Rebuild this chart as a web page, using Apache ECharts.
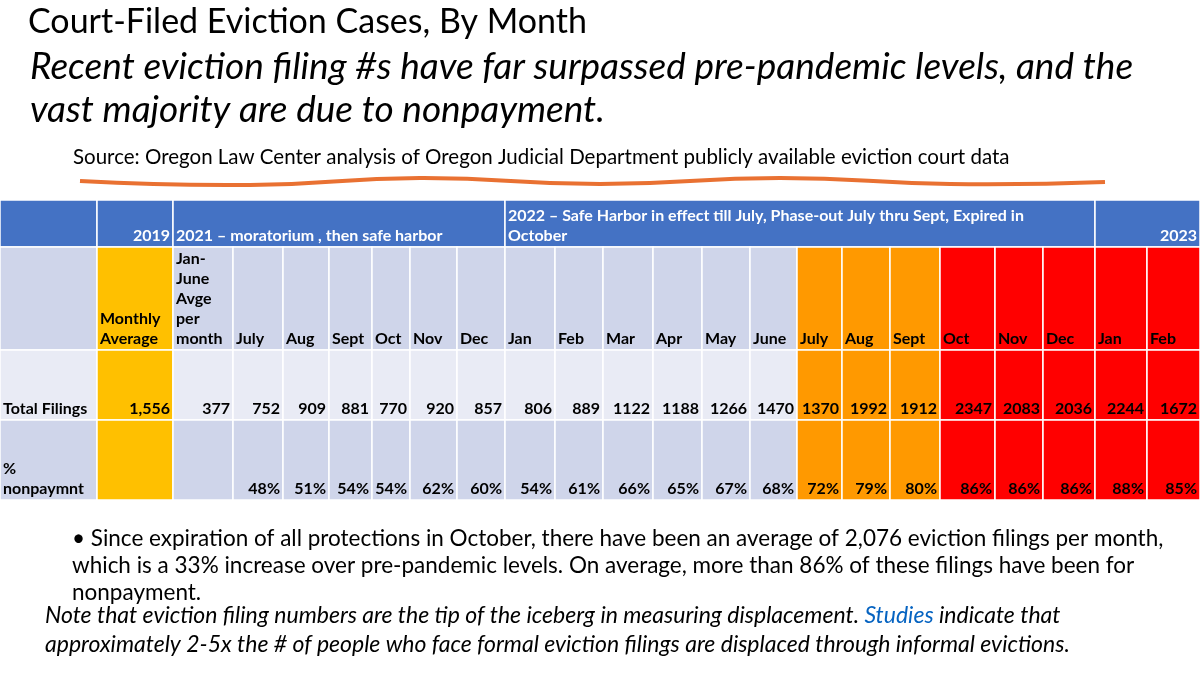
<!DOCTYPE html>
<html><head><meta charset="utf-8">
<script src="https://cdn.jsdelivr.net/npm/echarts@6/dist/echarts.min.js"></script>
<style>html,body{margin:0;padding:0;background:#fff}#c{width:1200px;height:676px}</style>
</head><body><div id="c"></div>
<script>
// table values
const months = ['July','Aug','Sept','Oct','Nov','Dec','Jan','Feb','Mar','Apr','May','June','July','Aug','Sept','Oct','Nov','Dec','Jan','Feb'];
const filings = [752,909,881,770,920,857,806,889,1122,1188,1266,1470,1370,1992,1912,2347,2083,2036,2244,1672];
const nonpay = [48,51,54,54,62,60,54,61,66,65,67,68,72,79,80,86,86,86,88,85];
const avg2019 = '1,556';
const janJuneAvg = '377';
const groups = [
  {label: '2019', from: 1, to: 2, align: 'right'},
  {label: '2021 – moratorium , then safe harbor', from: 2, to: 9, align: 'left'},
  {label: '2022 – Safe Harbor in effect till July, Phase-out July thru Sept, Expired in\nOctober', from: 9, to: 21, align: 'left'},
  {label: '2023', from: 21, to: 23, align: 'right'}
];

const colEdges = [0,97,173,233,283,329,372,410,457,505,555,603,653,702,750,797,842,890,940,995,1043,1095,1147,1200];
const rowEdges = [200,247,350,420,500];

const BLUE = '#4472C4', LIGHT = '#CFD5EA', PALE = '#E9EBF5', GOLD = '#FFC000', ORANGE = '#FF9900', RED = '#FF0000';

function monthColor(i, base) {
  if (i >= 15) return RED;
  if (i >= 12) return ORANGE;
  return base;
}

const cells = [];
function cell(c0, c1, r, fill, text, align, color) {
  cells.push({value: [colEdges[c0], rowEdges[r], colEdges[c1], rowEdges[r + 1]], fill, text, align, color: color || '#000'});
}
// header row
cell(0, 1, 0, BLUE, '', 'left', '#fff');
groups.forEach(g => cell(g.from, g.to, 0, BLUE, g.label, g.align, '#fff'));
// months row
cell(0, 1, 1, LIGHT, '', 'left');
cell(1, 2, 1, GOLD, 'Monthly\nAverage', 'left');
cell(2, 3, 1, LIGHT, 'Jan-\nJune\nAvge\nper\nmonth', 'left');
months.forEach((m, i) => cell(i + 3, i + 4, 1, monthColor(i, LIGHT), m, 'left'));
// totals
cell(0, 1, 2, PALE, 'Total Filings', 'left');
cell(1, 2, 2, GOLD, avg2019, 'right');
cell(2, 3, 2, PALE, janJuneAvg, 'right');
filings.forEach((v, i) => cell(i + 3, i + 4, 2, monthColor(i, PALE), String(v), 'right'));
// nonpayment
cell(0, 1, 3, LIGHT, '%\nnonpaymnt', 'left');
cell(1, 2, 3, GOLD, '', 'right');
cell(2, 3, 3, LIGHT, '', 'right');
nonpay.forEach((v, i) => cell(i + 3, i + 4, 3, monthColor(i, LIGHT), v + '%', 'right'));

const chart = echarts.init(document.getElementById('c'));
const font = 'Lato, "Open Sans", sans-serif';

chart.setOption({
  animation: false,
  grid: {left: 0, right: 0, top: 0, bottom: 0},
  xAxis: {type: 'value', min: 0, max: 1200, show: false},
  yAxis: {type: 'value', min: 0, max: 676, inverse: true, show: false},
  series: [{
    type: 'custom',
    data: cells,
    renderItem: function (params, api) {
      const d = cells[params.dataIndex];
      const p0 = api.coord([api.value(0), api.value(1)]);
      const p1 = api.coord([api.value(2), api.value(3)]);
      const children = [{
        type: 'rect',
        shape: {x: p0[0], y: p0[1], width: p1[0] - p0[0], height: p1[1] - p0[1]},
        style: {fill: d.fill, stroke: '#fff', lineWidth: 1.5}
      }];
      if (d.text) {
        children.push({
          type: 'text',
          style: {
            text: d.text,
            x: d.align === 'right' ? p1[0] - 3 : p0[0] + 3,
            y: p1[1] - 1,
            align: d.align,
            verticalAlign: 'bottom',
            fill: d.color,
            font: 'bold 16px ' + font,
            lineHeight: 20
          }
        });
      }
      return {type: 'group', children};
    }
  }],
  graphic: [
    {type: 'text', left: 28, top: 5, style: {text: 'Court-Filed Eviction Cases, By Month', font: '34px ' + font, fill: '#000'}},
    {type: 'text', left: 30, top: 46, style: {text: 'Recent eviction filing #s have far surpassed pre-pandemic levels, and the\nvast majority are due to nonpayment.', font: 'italic 37px ' + font, fill: '#000', lineHeight: 43}},
    {type: 'text', left: 73, top: 147, style: {text: 'Source: Oregon Law Center analysis of Oregon Judicial Department publicly available eviction court data', font: '20.5px ' + font, fill: '#000'}},
    {type: 'polyline', shape: {points: [[80,181],[250,185],[420,178],[600,184],[780,178],[950,184],[1105,182]], smooth: 0.5}, style: {stroke: '#E97132', lineWidth: 4, fill: null}},
    {type: 'text', left: 72, top: 525, style: {text: '• Since expiration of all protections in October, there have been an average of 2,076 eviction filings per month,\nwhich is a 33% increase over pre-pandemic levels. On average, more than 86% of these filings have been for\nnonpayment.', font: '22.5px ' + font, fill: '#000', lineHeight: 27}},
    {type: 'text', left: 45, top: 604, style: {
      text: '{i|Note that eviction filing numbers are the tip of the iceberg in measuring displacement.}{l| Studies }{i|indicate that}\n{i|approximately 2-5x the # of people who face formal eviction filings are displaced through informal evictions.}',
      rich: {
        i: {font: 'italic 23px ' + font, fill: '#000', lineHeight: 29},
        l: {font: 'italic 23px ' + font, fill: '#0563C1', textDecoration: 'underline', lineHeight: 29}
      }
    }}
  ]
});
</script>
</body></html>
